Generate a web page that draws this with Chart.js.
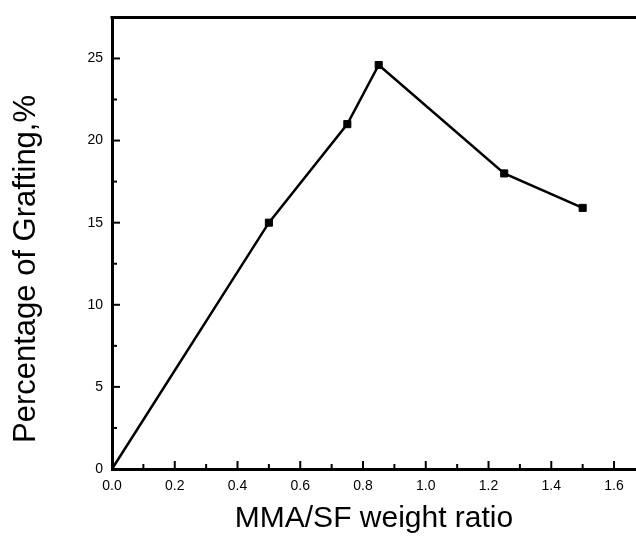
<!DOCTYPE html>
<html>
<head>
<meta charset="utf-8">
<script src="https://cdn.jsdelivr.net/npm/chart.js@4/dist/chart.umd.min.js"></script>
<style>
  html, body { margin: 0; padding: 0; background: #fff; }
  #graph { display: block; }
</style>
</head>
<body>
<canvas id="graph" width="636" height="538"></canvas>
<script>
const ratio = [0, 0.5, 0.75, 0.85, 1.25, 1.5];
const grafting = [0, 15, 21, 24.6, 18, 15.9];
const xTitle = "MMA/SF weight ratio";
const yTitle = "Percentage of Grafting,%";

const FONT = "'Liberation Sans', Arial, Helvetica, sans-serif";

document.addEventListener("DOMContentLoaded", function () {
    const ctx = document.getElementById("graph").getContext("2d");

    // inward tick marks, top frame line and the y title
    const frame = {
        id: "frame",
        afterDraw(chart) {
            const c = chart.ctx;
            const area = chart.chartArea;
            const xs = chart.scales.x;
            const ys = chart.scales.y;
            c.save();
            c.strokeStyle = "#000";
            c.lineWidth = 2;
            // x ticks every 0.1, major every 0.2
            for (let i = 0; i * 0.1 <= xs.max + 1e-9; i++) {
                const px = xs.getPixelForValue(i * 0.1);
                const len = i % 2 === 0 ? 8 : 5;
                c.beginPath();
                c.moveTo(px, area.bottom);
                c.lineTo(px, area.bottom - len);
                c.stroke();
            }
            // y ticks every 2.5, major every 5
            for (let i = 0; i * 2.5 <= ys.max + 1e-9; i++) {
                const py = ys.getPixelForValue(i * 2.5);
                const len = i % 2 === 0 ? 8 : 5;
                c.beginPath();
                c.moveTo(area.left, py);
                c.lineTo(area.left + len, py);
                c.stroke();
            }
            // top frame
            c.lineWidth = 3;
            c.beginPath();
            c.moveTo(area.left - 1.5, area.top);
            c.lineTo(chart.width, area.top);
            c.stroke();

            // y axis title
            c.fillStyle = "#000";
            c.font = "31px " + FONT;
            c.textAlign = "center";
            c.textBaseline = "alphabetic";
            c.translate(35, 269);
            c.rotate(-Math.PI / 2);
            c.fillText(yTitle, 0, 0);
            c.restore();
        }
    };

    new Chart(ctx, {
        type: "scatter",
        data: {
            datasets: [{
                data: ratio.map((r, i) => ({ x: r, y: grafting[i] })),
                showLine: true,
                borderColor: "#000",
                borderWidth: 2.5,
                backgroundColor: "#000",
                pointStyle: "rect",
                pointRadius: c => c.dataIndex === 0 ? 0 : 5,
                pointBorderWidth: 1,
                pointBorderColor: "#000",
                pointBackgroundColor: "#000",
                tension: 0,
                clip: false
            }]
        },
        options: {
            responsive: false,
            animation: false,
            layout: {
                autoPadding: false,
                padding: { top: 16, right: 0, left: 0, bottom: 0 }
            },
            plugins: {
                legend: { display: false },
                tooltip: { enabled: false }
            },
            scales: {
                x: {
                    type: "linear",
                    min: 0,
                    max: 1.67,
                    afterFit: s => {
                        s.height = 69;
                        s.paddingLeft = 0;
                        s.paddingRight = 0;
                    },
                    grid: { display: false, drawTicks: false },
                    border: { display: true, color: "#000", width: 3 },
                    ticks: {
                        stepSize: 0.2,
                        includeBounds: false,
                        padding: 9,
                        color: "#000",
                        font: { family: FONT, size: 14 },
                        maxRotation: 0,
                        callback: v => v.toFixed(1)
                    },
                    title: {
                        display: true,
                        text: xTitle,
                        color: "#000",
                        font: { family: FONT, size: 30 },
                        padding: { top: 0, bottom: 1 }
                    }
                },
                y: {
                    type: "linear",
                    min: 0,
                    max: 27.5,
                    afterFit: s => { s.width = 112; },
                    grid: { display: false, drawTicks: false },
                    border: { display: true, color: "#000", width: 3 },
                    ticks: {
                        stepSize: 5,
                        includeBounds: false,
                        padding: 9,
                        color: "#000",
                        font: { family: FONT, size: 14 }
                    }
                }
            }
        },
        plugins: [frame]
    });
});
</script>
</body>
</html>
